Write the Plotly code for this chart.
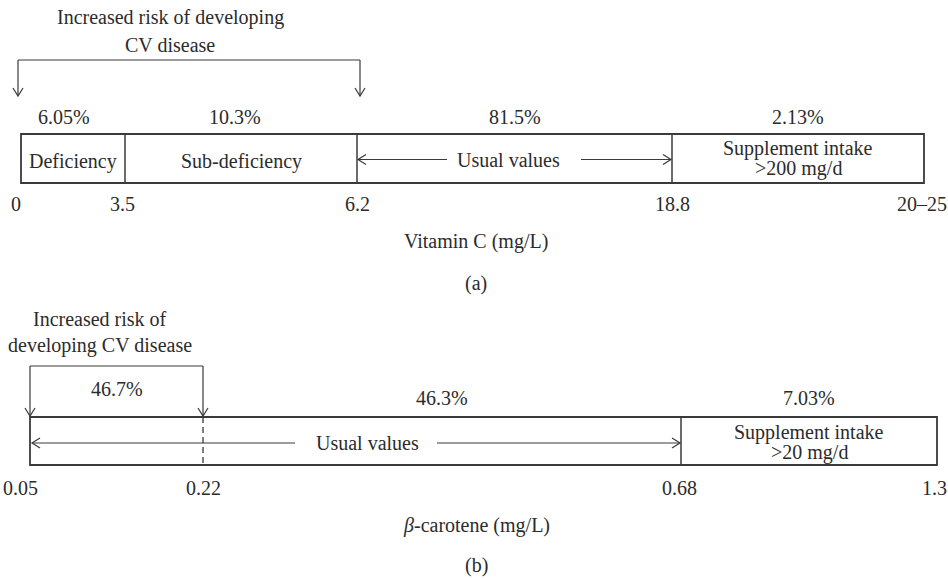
import plotly.graph_objects as go

# ---------------- data ----------------
vc_ticks = ["0", "3.5", "6.2", "18.8", "20–25"]
vc_zones = ["Deficiency", "Sub-deficiency", "Usual values", "Supplement intake<br>>200 mg/d"]
vc_share = [6.05, 10.3, 81.5, 2.13]
vc_title = "Vitamin C (mg/L)"
vc_risk = "Increased risk of developing<br>CV disease"

bc_ticks = ["0.05", "0.22", "0.68", "1.3"]
bc_zones = ["Usual values", "Supplement intake<br>>20 mg/d"]
bc_share = [46.7, 46.3, 7.03]
bc_title = "<i>β</i>-carotene (mg/L)"
bc_risk = "Increased risk of<br>developing CV disease"

# ---------------- layout (pixel frame) ----------------
W, H = 948, 579
FONT = "Liberation Serif"
FS = 20
TXT = "#2b2b2b"
LN = "#3a3a3a"

VC_EDGES = [21, 125, 357, 672, 924]
VC_TOP, VC_BOT = 134, 183
VC_TICK_SHIFT = [-5, -3, 0, 0, -2]
VC_PCT_SHIFT = [-9, -6, 0, 0]

BC_EDGES = [30, 203, 681, 937]
BC_TOP, BC_BOT = 417, 465
BC_TICK_SHIFT = [-10, 0, -2, -3]

shapes = []
ann = []


def line(x0, y0, x1, y1, w=1.2, dash=None):
    d = dict(type="line", xref="x", yref="y", x0=x0, y0=y0, x1=x1, y1=y1,
             line=dict(color=LN, width=w))
    if dash:
        d["line"]["dash"] = dash
    shapes.append(d)


def head(x, y, direction, s=5, L=8):
    if direction == "down":
        p = f"M {x-s},{y-L} L {x},{y} L {x+s},{y-L}"
    elif direction == "left":
        p = f"M {x+L},{y-s} L {x},{y} L {x+L},{y+s}"
    else:
        p = f"M {x-L},{y-s} L {x},{y} L {x-L},{y+s}"
    shapes.append(dict(type="path", xref="x", yref="y", path=p,
                       line=dict(color=LN, width=1.2)))


def text(x, y, s, size=FS, spacing=20):
    parts = s.split("<br>")
    y0 = y - spacing * (len(parts) - 1) / 2
    for k, p in enumerate(parts):
        ann.append(dict(x=x, y=y0 + k * spacing, xref="x", yref="y", text=p,
                        showarrow=False, xanchor="center", yanchor="middle",
                        font=dict(family=FONT, size=size, color=TXT)))


# ---------- panel (a) ----------
text(170, 31, vc_risk, spacing=28)
line(18, 60, 360, 60)
line(18, 60, 18, 96)
line(360, 60, 360, 96)
head(18, 96, "down")
head(360, 96, "down")

shapes.append(dict(type="rect", xref="x", yref="y", x0=VC_EDGES[0], x1=VC_EDGES[-1],
                   y0=VC_TOP, y1=VC_BOT, line=dict(color=LN, width=1.8)))
for e in VC_EDGES[1:-1]:
    line(e, VC_TOP, e, VC_BOT, w=1.5)

for i, v in enumerate(vc_share):
    cx = (VC_EDGES[i] + VC_EDGES[i + 1]) / 2 + VC_PCT_SHIFT[i]
    text(cx, 117, f"{v}%")

mid_y = (VC_TOP + VC_BOT) / 2 + 1
text((VC_EDGES[0] + VC_EDGES[1]) / 2, mid_y + 2, vc_zones[0])
text((VC_EDGES[1] + VC_EDGES[2]) / 2, mid_y + 2, vc_zones[1])
text(508, mid_y, vc_zones[2])
line(VC_EDGES[2] + 1, mid_y, 447, mid_y)
head(VC_EDGES[2] + 1, mid_y, "left")
line(581, mid_y, VC_EDGES[3] - 1, mid_y)
head(VC_EDGES[3] - 1, mid_y, "right")
text((VC_EDGES[3] + VC_EDGES[4]) / 2, mid_y - 1, vc_zones[3])

for e, t, sh in zip(VC_EDGES, vc_ticks, VC_TICK_SHIFT):
    text(e + sh, 204, t)
text(476, 241, vc_title)
text(476, 283, "(a)")

# ---------- panel (b) ----------
text(100, 332, bc_risk, spacing=27)
line(30, 366, 203, 366)
line(30, 366, 30, 416)
line(203, 366, 203, 416)
head(30, 416, "down")
head(203, 416, "down")

shapes.append(dict(type="rect", xref="x", yref="y", x0=BC_EDGES[0], x1=BC_EDGES[-1],
                   y0=BC_TOP, y1=BC_BOT, line=dict(color=LN, width=1.8)))
line(BC_EDGES[1], BC_TOP, BC_EDGES[1], BC_BOT, w=1.3, dash="6px,4px")
line(BC_EDGES[2], BC_TOP, BC_EDGES[2], BC_BOT, w=1.5)

text((BC_EDGES[0] + BC_EDGES[1]) / 2, 389, f"{bc_share[0]}%")
text((BC_EDGES[1] + BC_EDGES[2]) / 2, 398, f"{bc_share[1]}%")
text((BC_EDGES[2] + BC_EDGES[3]) / 2, 398, f"{bc_share[2]}%")

bmid = (BC_TOP + BC_BOT) / 2 + 2
text(367, bmid, bc_zones[0])
line(BC_EDGES[0] + 2, bmid, 295, bmid)
head(BC_EDGES[0] + 2, bmid, "left")
line(437, bmid, BC_EDGES[2] - 1, bmid)
head(BC_EDGES[2] - 1, bmid, "right")
text((BC_EDGES[2] + BC_EDGES[3]) / 2, bmid - 1, bc_zones[1])

for e, t, sh in zip(BC_EDGES, bc_ticks, BC_TICK_SHIFT):
    text(e + sh, 488, t)
text(476, 525, bc_title)
text(476, 565, "(b)")

fig = go.Figure()
fig.update_layout(
    width=W, height=H,
    margin=dict(l=0, r=0, t=0, b=0),
    paper_bgcolor="white", plot_bgcolor="white",
    xaxis=dict(range=[0, W], visible=False, fixedrange=True),
    yaxis=dict(range=[H, 0], visible=False, fixedrange=True),
    shapes=shapes, annotations=ann, showlegend=False,
)
fig.write_html(
    "out.html",
    config={"displayModeBar": False},
    post_script="document.body.style.margin='0px';document.body.style.padding='0px';document.body.style.overflow='hidden';",
)
